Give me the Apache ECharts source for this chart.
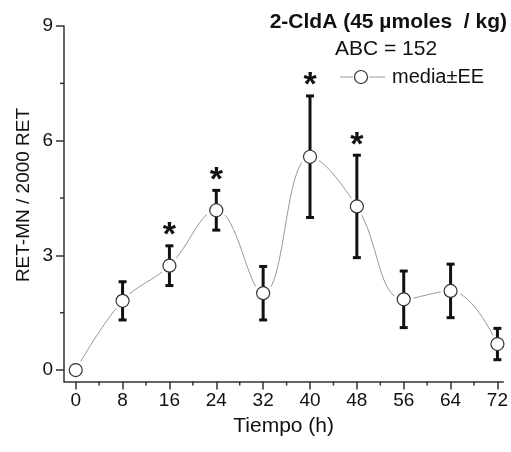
<!DOCTYPE html>
<html>
<head>
<meta charset="utf-8">
<script src="https://cdn.jsdelivr.net/npm/echarts@6/dist/echarts.min.js"></script>
<style>
  html, body { margin: 0; padding: 0; background: #fff; }
  #chart { width: 511px; height: 452px; }
</style>
</head>
<body>
<div id="chart"></div>
<script>
// datos: tiempo (h), media y error estandar
const times = [0, 8, 16, 24, 32, 40, 48, 56, 64, 72];
const means = [0, 1.81, 2.73, 4.18, 2.01, 5.58, 4.28, 1.85, 2.07, 0.68];
const errs  = [0, 0.50, 0.52, 0.52, 0.70, 1.59, 1.34, 0.74, 0.70, 0.41];
const sigTimes = [16, 24, 40, 48];   // marcados con *

const xTicks = [0, 8, 16, 24, 32, 40, 48, 56, 64, 72];
const xMinor = [4, 12, 20, 28, 36, 44, 52, 60, 68];
const yTicks = [0, 3, 6, 9];
const yMinor = [1.5, 4.5, 7.5];

const X_MIN = -2, X_MAX = 73, Y_MIN = -0.3, Y_MAX = 9;
const axisColor = '#333';
const font = 'Liberation Sans, Arial, sans-serif';

const pts = times.map((t, i) => [t, means[i]]);
const bars = times.map((t, i) => [t, means[i] - errs[i], means[i] + errs[i]]);
const stars = sigTimes.map(t => {
  const i = times.indexOf(t);
  return [t, means[i] + errs[i]];
});
// marcas menores: [x, y, direccion]
const minorTicks = xMinor.map(t => [t, Y_MIN, 0]).concat(yMinor.map(v => [X_MIN, v, 1]));

const chart = echarts.init(document.getElementById('chart'));

chart.setOption({
  backgroundColor: '#fff',
  animation: false,
  grid: { left: 64, right: 7, top: 26, bottom: 70.5 },
  xAxis: {
    type: 'value', min: X_MIN, max: X_MAX,
    splitLine: { show: false },
    axisLine: { onZero: false, lineStyle: { color: axisColor, width: 1.5 } },
    axisTick: { customValues: xTicks, length: 8, lineStyle: { color: axisColor, width: 1.5 } },
    axisLabel: { customValues: xTicks, color: '#111', fontSize: 19, fontFamily: font, margin: 10 },
    name: 'Tiempo (h)', nameLocation: 'middle', nameGap: 34,
    nameTextStyle: { color: '#111', fontSize: 21, fontFamily: font }
  },
  yAxis: {
    type: 'value', min: Y_MIN, max: Y_MAX,
    splitLine: { show: false },
    axisLine: { show: true, onZero: false, lineStyle: { color: axisColor, width: 1.5 } },
    axisTick: { show: true, customValues: yTicks, length: 8, lineStyle: { color: axisColor, width: 1.5 } },
    axisLabel: { customValues: yTicks, color: '#111', fontSize: 19, fontFamily: font, margin: 11 }
  },
  graphic: [
    { type: 'text', x: 24, y: 195, rotation: Math.PI / 2,
      style: { text: 'RET-MN / 2000 RET', fill: '#111', font: '19px ' + font, align: 'center', verticalAlign: 'middle' } },
    { type: 'text', right: 4, top: 12,
      style: { text: '2-CldA (45 µmoles  / kg)', fill: '#111', font: 'bold 21px ' + font } },
    { type: 'text', x: 386, y: 49,
      style: { text: 'ABC = 152', fill: '#111', font: '21px ' + font, align: 'center', verticalAlign: 'middle' } },
    { type: 'line', shape: { x1: 340, y1: 77, x2: 353, y2: 77 }, style: { stroke: '#999', lineWidth: 1 } },
    { type: 'line', shape: { x1: 369, y1: 77, x2: 385, y2: 77 }, style: { stroke: '#999', lineWidth: 1 } },
    { type: 'circle', shape: { cx: 361, cy: 77, r: 6.5 }, style: { fill: '#fff', stroke: '#333', lineWidth: 1.2 } },
    { type: 'text', x: 392, y: 77,
      style: { text: 'media±EE', fill: '#111', font: '20px ' + font, verticalAlign: 'middle' } }
  ],
  series: [
    {
      // marcas menores de los ejes
      type: 'custom', data: minorTicks, clip: false, silent: true, z: 0,
      renderItem(params, api) {
        const p = api.coord([api.value(0), api.value(1)]);
        const vert = api.value(2) === 0;
        return {
          type: 'line',
          shape: vert ? { x1: p[0], y1: p[1], x2: p[0], y2: p[1] + 4 }
                      : { x1: p[0], y1: p[1], x2: p[0] - 4, y2: p[1] },
          style: { stroke: axisColor, lineWidth: 1.5 }
        };
      }
    },
    {
      type: 'line', data: pts, smooth: 0.4, z: 1,
      lineStyle: { color: '#999', width: 1 },
      symbol: 'circle', symbolSize: 20,
      itemStyle: { color: '#fff', borderWidth: 0 }
    },
    {
      type: 'custom', data: bars, z: 3,
      renderItem(params, api) {
        const x = api.value(0);
        if (api.value(2) - api.value(1) <= 0) return null;
        const top = api.coord([x, api.value(2)]);
        const bot = api.coord([x, api.value(1)]);
        const w = 4;
        const st = { stroke: '#111', lineWidth: 3 };
        return {
          type: 'group', children: [
            { type: 'line', shape: { x1: top[0], y1: top[1], x2: bot[0], y2: bot[1] }, style: st },
            { type: 'line', shape: { x1: top[0] - w, y1: top[1], x2: top[0] + w, y2: top[1] }, style: st },
            { type: 'line', shape: { x1: bot[0] - w, y1: bot[1], x2: bot[0] + w, y2: bot[1] }, style: st }
          ]
        };
      }
    },
    {
      type: 'scatter', data: pts, z: 4,
      symbol: 'circle', symbolSize: 13,
      itemStyle: { color: '#fff', opacity: 1, borderColor: '#333', borderWidth: 1.2 }
    },
    {
      type: 'custom', data: stars, z: 5,
      renderItem(params, api) {
        const p = api.coord([api.value(0), api.value(1)]);
        return {
          type: 'text', x: p[0], y: p[1] + 7,
          style: { text: '*', fill: '#111', font: 'bold 34px ' + font, align: 'center', verticalAlign: 'bottom' }
        };
      }
    }
  ]
});
</script>
</body>
</html>
